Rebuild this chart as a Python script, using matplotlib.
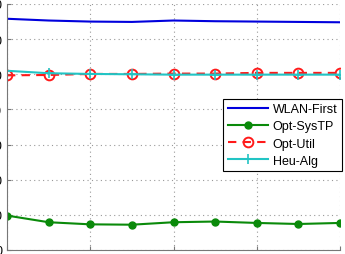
import matplotlib
matplotlib.use("Agg")
import matplotlib.pyplot as plt

x = [10, 20, 30, 40, 50, 60, 70, 80, 90]
wlan_first = [65.8, 65.3, 65.0, 64.9, 65.3, 65.1, 65.0, 64.9, 64.8]
opt_systp = [9.8, 7.9, 7.3, 7.2, 7.9, 8.1, 7.7, 7.4, 7.7]
opt_util = [49.7, 49.8, 50.1, 50.1, 50.2, 50.2, 50.4, 50.4, 50.4]
heu_alg = [51.0, 50.3, 50.1, 50.0, 49.9, 49.9, 49.9, 49.9, 49.9]
y_ticks = [0, 10, 20, 30, 40, 50, 60, 70]
x_ticks = [10, 30, 50, 70, 90]

plt.rcParams['font.family'] = ['Liberation Sans', 'DejaVu Sans']
fig = plt.figure(figsize=(3.45, 2.55), dpi=100)
ax = fig.add_axes([7/345, 4/255, 333/345, 246/255])

ax.plot(x, wlan_first, color='#0000dd', lw=1.5, label='WLAN-First')
ax.plot(x, opt_systp, color='#0a8a0a', lw=1.5, marker='o', ms=5, label='Opt-SysTP')
ax.plot(x, opt_util, color='#ff1a1a', lw=1.5, ls=(0, (4, 3)), marker='o', ms=7,
        mfc='none', mew=1.4, label='Opt-Util')
ax.plot(x, heu_alg, color='#22c4c4', lw=1.5, marker='+', ms=7, mew=1.2, label='Heu-Alg')

ax.set_xlim(10, 90)
ax.set_ylim(0, 70)
ax.set_xticks(x_ticks)
ax.set_yticks(y_ticks)
ax.grid(True, ls=(0, (1, 3)), color='#999999', lw=0.8)
for s in ['top', 'right']:
    ax.spines[s].set_visible(False)
for s in ['left', 'bottom']:
    ax.spines[s].set_color('#777777')
ax.tick_params(direction='in', length=3, color='#777777', labelsize=9)

leg = ax.legend(loc='upper right', bbox_to_anchor=(1.006, 0.615), fontsize=9,
                frameon=True, fancybox=False, edgecolor='black', framealpha=1,
                handlelength=3.2, borderpad=0.35, labelspacing=0.42,
                handletextpad=0.4, borderaxespad=0.0)
leg.get_frame().set_linewidth(0.8)

fig.savefig('out.png', dpi=100)
